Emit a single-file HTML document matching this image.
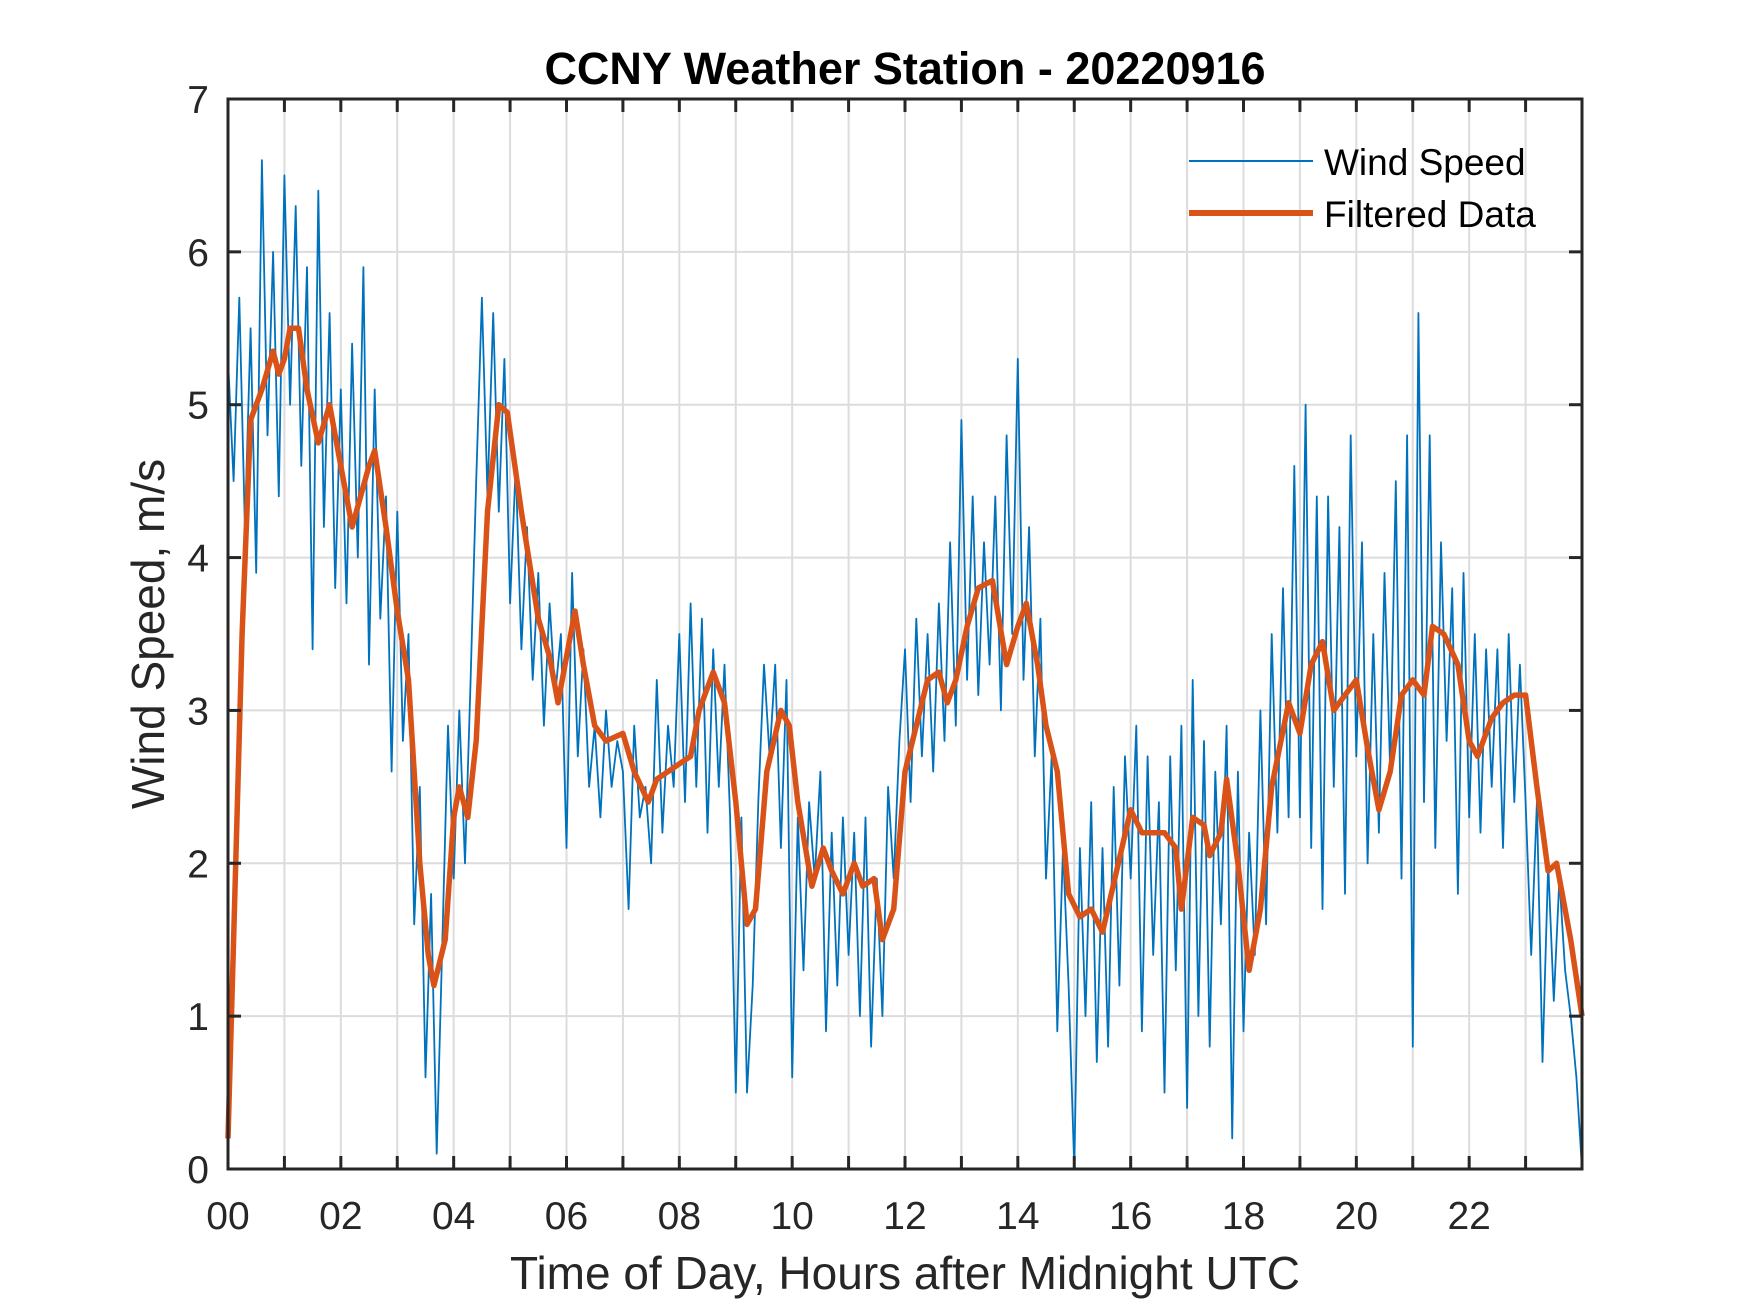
<!DOCTYPE html>
<html><head><meta charset="utf-8"><style>
html,body{margin:0;padding:0;background:#fff;}
svg{display:block;font-family:"Liberation Sans",Arial,sans-serif;}
</style></head><body>
<svg id="chart" width="1750" height="1313" viewBox="0 0 1750 1313" xmlns="http://www.w3.org/2000/svg">
<rect width="1750" height="1313" fill="#fff"/>
<g id="grid"></g>
<g id="series"></g>
<g id="axes"></g>
<text x="905" y="84" text-anchor="middle" font-size="45" font-weight="bold" fill="#000">CCNY Weather Station - 20220916</text>
<text x="905" y="1289" text-anchor="middle" font-size="46" fill="#262626">Time of Day, Hours after Midnight UTC</text>
<text transform="translate(164,634) rotate(-90)" text-anchor="middle" font-size="46" fill="#262626">Wind Speed, m/s</text>
<g>
<line x1="1189" y1="161" x2="1313" y2="161" stroke="#0072BD" stroke-width="2"/>
<text x="1324" y="175" font-size="37" fill="#000">Wind Speed</text>
<line x1="1189" y1="213" x2="1313" y2="213" stroke="#D95319" stroke-width="6"/>
<text x="1324" y="227" font-size="37" fill="#000">Filtered Data</text>
</g>
</svg>
<script>
const xTickLabels=["00","02","04","06","08","10","12","14","16","18","20","22"];
const yTickLabels=["0","1","2","3","4","5","6","7"];
const windSpeed=[
5.3,4.5,5.7,4.2,5.5,3.9,6.6,4.8,6.0,4.4,
6.5,5.0,6.3,4.6,5.9,3.4,6.4,4.2,5.6,3.8,
5.1,3.7,5.4,4.0,5.9,3.3,5.1,3.6,4.4,2.6,
4.3,2.8,3.5,1.6,2.5,0.6,1.8,0.1,1.5,2.9,
1.9,3.0,2.0,3.2,4.5,5.7,4.4,5.6,4.3,5.3,
3.7,4.6,3.4,4.2,3.2,3.9,2.9,3.7,3.1,3.5,
2.1,3.9,2.7,3.4,2.5,2.9,2.3,3.0,2.5,2.8,
2.6,1.7,2.9,2.3,2.5,2.0,3.2,2.2,2.9,2.5,
3.5,2.4,3.7,2.5,3.6,2.2,3.4,2.5,3.3,2.3,
0.5,2.3,0.5,1.2,2.4,3.3,2.7,3.3,2.1,3.2,
0.6,2.3,1.3,2.4,1.9,2.6,0.9,2.2,1.2,2.3,
1.4,2.2,1.0,2.3,0.8,1.9,1.0,2.5,1.9,2.8,
3.4,2.4,3.6,2.7,3.5,2.6,3.7,2.8,4.1,2.9,
4.9,3.2,4.4,3.1,4.1,3.3,4.4,3.0,4.8,3.5,
5.3,3.2,4.2,2.7,3.6,1.9,2.7,0.9,2.1,1.2,
0.0,2.1,1.0,2.4,0.7,2.1,0.8,2.5,1.2,2.7,
1.9,2.9,0.9,2.7,1.4,2.4,0.5,2.7,1.3,2.9,
0.4,3.2,1.0,2.8,0.8,2.6,1.6,2.9,0.2,2.6,
0.9,2.2,1.4,3.0,1.6,3.5,2.2,3.8,2.3,4.6,
2.3,5.0,2.1,4.4,1.7,4.4,2.5,4.2,1.8,4.8,
2.7,4.1,2.0,3.5,2.2,3.9,2.6,4.5,1.9,4.8,
0.8,5.6,2.4,4.8,2.1,4.1,2.8,3.8,1.8,3.9,
2.3,3.5,2.2,3.4,2.5,3.4,2.1,3.5,2.4,3.3,
2.4,1.4,2.4,0.7,2.0,1.1,1.9,1.3,1.0,0.6,
0.0];
const filteredHours=[0,0.1,0.25,0.4,0.6,0.8,0.9,1.0,1.1,1.25,1.4,1.6,1.8,1.95,2.2,2.5,2.6,2.8,3.0,3.2,3.4,3.55,3.65,3.85,4.0,4.1,4.25,4.4,4.6,4.8,4.95,5.2,5.5,5.7,5.85,6.0,6.15,6.3,6.5,6.7,7.0,7.2,7.45,7.6,7.8,8.0,8.2,8.35,8.6,8.8,9.0,9.2,9.35,9.55,9.8,9.95,10.1,10.35,10.55,10.7,10.9,11.1,11.25,11.45,11.6,11.8,12.0,12.2,12.4,12.6,12.75,12.9,13.1,13.3,13.55,13.8,14.0,14.15,14.35,14.5,14.7,14.9,15.1,15.3,15.5,15.75,16.0,16.2,16.4,16.6,16.8,16.9,17.1,17.3,17.4,17.6,17.7,17.9,18.1,18.3,18.5,18.8,19.0,19.2,19.4,19.6,19.8,20.0,20.2,20.4,20.6,20.8,21.0,21.2,21.35,21.55,21.8,22.0,22.15,22.4,22.6,22.8,23.0,23.2,23.4,23.55,23.8,24.0];
const filteredValues=[0.2,1.5,3.5,4.9,5.1,5.35,5.2,5.3,5.5,5.5,5.1,4.75,5.0,4.7,4.2,4.6,4.7,4.2,3.65,3.2,2.0,1.4,1.2,1.5,2.3,2.5,2.3,2.8,4.3,5.0,4.95,4.3,3.6,3.35,3.05,3.35,3.65,3.3,2.9,2.8,2.85,2.6,2.4,2.55,2.6,2.65,2.7,3.0,3.25,3.05,2.4,1.6,1.7,2.6,3.0,2.9,2.4,1.85,2.1,1.95,1.8,2.0,1.85,1.9,1.5,1.7,2.6,2.9,3.2,3.25,3.05,3.2,3.55,3.8,3.85,3.3,3.55,3.7,3.3,2.9,2.6,1.8,1.65,1.7,1.55,1.95,2.35,2.2,2.2,2.2,2.1,1.7,2.3,2.25,2.05,2.2,2.55,2.0,1.3,1.7,2.5,3.05,2.85,3.3,3.45,3.0,3.1,3.2,2.75,2.35,2.6,3.1,3.2,3.1,3.55,3.5,3.3,2.8,2.7,2.95,3.05,3.1,3.1,2.5,1.95,2.0,1.5,1.0];

const NS="http://www.w3.org/2000/svg";
const L=228,R=1582,T=99,B=1169,XMAX=24,YMAX=7;
function xs(h){return L+(R-L)*h/XMAX;}
function ys(v){return B-(B-T)*v/YMAX;}
function mk(tag,attrs,parent){const e=document.createElementNS(NS,tag);for(const k in attrs)e.setAttribute(k,attrs[k]);parent.appendChild(e);return e;}
const grid=document.getElementById('grid'),axes=document.getElementById('axes'),series=document.getElementById('series');
for(let h=1;h<XMAX;h++){
  const g=mk('line',{x1:xs(h),x2:xs(h),y1:T,y2:B,stroke:'#dcdcdc','stroke-width':2},grid);
  
  
}
for(let v=1;v<YMAX;v++){
  const g=mk('line',{x1:L,x2:R,y1:ys(v),y2:ys(v),stroke:'#dcdcdc','stroke-width':2},grid);
  
  
}
let d='';
windSpeed.forEach((v,i)=>{d+=(i?'L':'M')+xs(i*0.1).toFixed(1)+','+ys(v).toFixed(1);});
const ws=mk('path',{d:d,fill:'none',stroke:'#0072BD','stroke-width':1.8,'stroke-linejoin':'round'},series);


let d2='';
filteredValues.forEach((v,i)=>{d2+=(i?'L':'M')+xs(filteredHours[i]).toFixed(1)+','+ys(v).toFixed(1);});
const fl=mk('path',{d:d2,fill:'none',stroke:'#D95319','stroke-width':5.5,'stroke-linejoin':'round'},series);


const box=mk('rect',{x:L,y:T,width:R-L,height:B-T,fill:'none',stroke:'#262626','stroke-width':3},axes);


for(let h=1;h<XMAX;h++){
  const t1=mk('line',{x1:xs(h),x2:xs(h),y1:B,y2:B-13,stroke:'#262626','stroke-width':3},axes);
  
  
  const t2=mk('line',{x1:xs(h),x2:xs(h),y1:T,y2:T+13,stroke:'#262626','stroke-width':3},axes);
  
  
}
xTickLabels.forEach((s,i)=>{
  const t=mk('text',{x:xs(i*2),y:1229,'text-anchor':'middle','font-size':39,fill:'#262626'},axes);
  t.textContent=s;
  
  
});
yTickLabels.forEach((s,i)=>{
  if(i>0&&i<YMAX){
    const a=mk('line',{x1:L,x2:L+13,y1:ys(i),y2:ys(i),stroke:'#262626','stroke-width':3},axes);
    
    
    const b=mk('line',{x1:R,x2:R-13,y1:ys(i),y2:ys(i),stroke:'#262626','stroke-width':3},axes);
    
    
  }
  const t=mk('text',{x:209,y:ys(i)+14,'text-anchor':'end','font-size':39,fill:'#262626'},axes);
  t.textContent=s;
  
  
});
</script>
</body></html>
